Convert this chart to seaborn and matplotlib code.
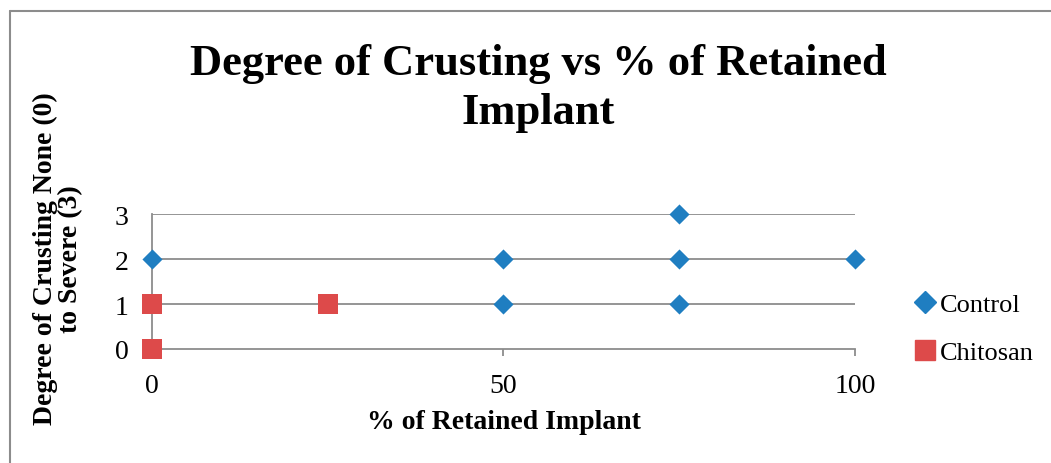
import matplotlib
matplotlib.use("Agg")
import matplotlib.pyplot as plt
import pandas as pd
import seaborn as sns
from matplotlib.lines import Line2D

# data
control_x = [0, 50, 50, 75, 75, 75, 100]
control_y = [2, 2, 1, 3, 2, 1, 2]
chitosan_x = [0, 0, 25]
chitosan_y = [1, 0, 1]
series_names = ["Control", "Chitosan"]
x_ticks = [0, 50, 100]
y_ticks = [0, 1, 2, 3]

title = "Degree of Crusting vs % of Retained\nImplant"
x_label = "% of Retained Implant"
y_label = "Degree of Crusting None (0)\nto Severe (3)"

colors = {"Control": "#1F7EC1", "Chitosan": "#DD4A4A"}
markers = {"Control": "D", "Chitosan": "s"}
sizes = {"Control": 105, "Chitosan": 225}
grey = "#8C8C8C"

df = pd.DataFrame({
    "x": control_x + chitosan_x,
    "y": control_y + chitosan_y,
    "series": ["Control"] * len(control_x) + ["Chitosan"] * len(chitosan_x),
})

sns.set_theme(style="white")
plt.rcParams["font.family"] = ["Liberation Serif", "DejaVu Serif"]
plt.rcParams["text.color"] = "black"
plt.rcParams["axes.labelcolor"] = "black"
plt.rcParams["xtick.color"] = "black"
plt.rcParams["ytick.color"] = "black"

fig = plt.figure(figsize=(10.51, 4.64), dpi=100)
ax = fig.add_axes([0.1446, 0.2457, 0.6689, 0.2909])

for name in series_names:
    sub = df[df["series"] == name]
    sns.scatterplot(data=sub, x="x", y="y", ax=ax, color=colors[name],
                    marker=markers[name], s=sizes[name], linewidth=0,
                    clip_on=False, zorder=3, legend=False)

ax.set_xlim(0, 100)
ax.set_ylim(0, 3)
ax.set_xticks(x_ticks)
ax.set_yticks(y_ticks)
ax.set_yticklabels([str(v) for v in y_ticks])
ax.set_xticklabels([str(v) for v in x_ticks])

for v in y_ticks[1:]:
    ax.axhline(v, color=grey, lw=1.3, zorder=1)

for side in ["top", "right"]:
    ax.spines[side].set_visible(False)
for side in ["left", "bottom"]:
    ax.spines[side].set_color(grey)
    ax.spines[side].set_linewidth(1.3)

ax.tick_params(axis="x", direction="out", length=5, width=1.3, color=grey,
               labelsize=20, pad=12, bottom=True, labelcolor="black")
ax.tick_params(axis="y", length=0, labelsize=20, pad=17, left=False,
               labelcolor="black")

ax.set_xlabel(x_label, fontsize=20, fontweight="bold", labelpad=8)
ax.set_ylabel("")
fig.text(0.055, 0.442, y_label, ha="center", va="center", rotation=90,
         fontsize=20, fontweight="bold", linespacing=1.0, multialignment="center")

fig.text(0.512, 0.905, title, ha="center", va="top", fontsize=32,
         fontweight="bold", linespacing=1.3)

handles = [Line2D([], [], linestyle="none", marker=markers[n],
                  color=colors[n], markersize=11 if n == "Control" else 14)
           for n in series_names]
fig.legend(handles, series_names, loc="center left",
           bbox_to_anchor=(0.845, 0.29), frameon=False, fontsize=19,
           handletextpad=0.05, labelspacing=0.95, handlelength=1.0)

# outer chart-area border (top and left edges visible)
fig.add_artist(Line2D([0.0095, 0.0095], [0, 0.974], color=grey, lw=1.5,
                      transform=fig.transFigure))
fig.add_artist(Line2D([0.0095, 1.0], [0.974, 0.974], color=grey, lw=1.5,
                      transform=fig.transFigure))

fig.savefig("out.png", dpi=100)
